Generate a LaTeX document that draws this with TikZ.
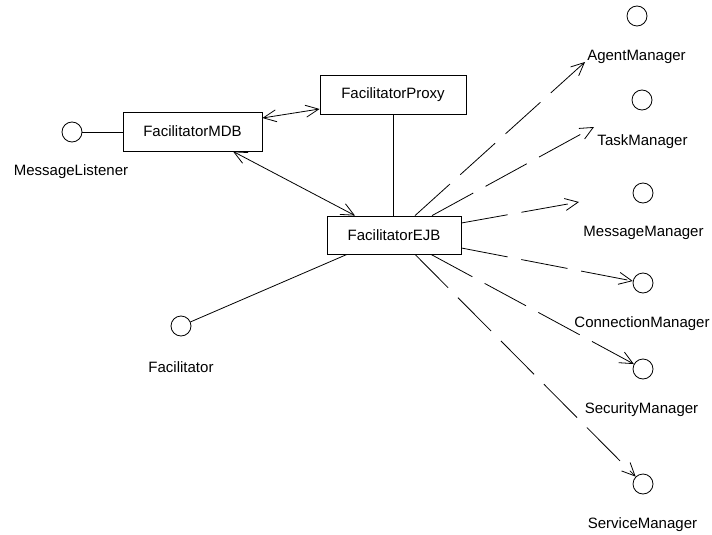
\documentclass[tikz,border=0pt]{standalone}
\usepackage{fontspec}
\setmainfont{Liberation Sans}
\usetikzlibrary{arrows.meta}
\begin{document}
\begin{tikzpicture}[x=1pt,y=-1pt,
  font=\fontsize{15}{18}\selectfont,
  every path/.style={line width=0.8pt},
  classbox/.style={draw,rectangle,inner sep=0pt,minimum height=39pt},
  iface/.style={draw,circle,inner sep=0pt,minimum size=20pt},
  ifacelabel/.style={inner sep=0pt,anchor=center},
  vtip/.tip={Straight Barb[length=13pt,width=12pt,line width=0.8pt]},
  assoc/.style={vtip-vtip},
  depend/.style={-vtip,dash pattern=on 47pt off 14pt}]
\useasboundingbox (0,0) rectangle (712,535);

% classes
\node[classbox,minimum width=139pt] (mdb)   at (192.5,131.5) {FacilitatorMDB};
\node[classbox,minimum width=146pt] (proxy) at (393,94.5)    {FacilitatorProxy};
\node[classbox,minimum width=134pt,minimum height=38pt] (ejb) at (394,235) {FacilitatorEJB};

% interfaces (lollipops) and their names
\node[iface] (ml)  at (72,132)  {};
\node[iface] (fac) at (181,326) {};
\node[iface] (am)  at (637,16)  {};
\node[iface] (tm)  at (642,100) {};
\node[iface] (mm)  at (643,193) {};
\node[iface] (cm)  at (643,283) {};
\node[iface] (sm)  at (643,369) {};
\node[iface] (svm) at (643,484) {};

\node[ifacelabel] (mllabel)  at (71,172)  {MessageListener};
\node[ifacelabel] (faclabel) at (181,367) {Facilitator};
\node[ifacelabel] (amlabel)  at (636.5,57) {AgentManager};
\node[ifacelabel] (tmlabel)  at (642.5,142) {TaskManager};
\node[ifacelabel] (mmlabel)  at (643.5,233) {MessageManager};
\node[ifacelabel] (cmlabel)  at (642,324) {ConnectionManager};
\node[ifacelabel] (smlabel)  at (641.5,410) {SecurityManager};
\node[ifacelabel] (svmlabel) at (642.5,525) {ServiceManager};

% free ends of the dependencies that stop short of their interface
\coordinate (amtip) at (585,62);
\coordinate (tmtip) at (594,127);
\coordinate (mmtip) at (579,202);

% realisations and associations
\draw (ml) -- (mdb.west |- ml);
\draw[assoc] ([yshift=13.5pt]mdb.east) -- ([yshift=-14.5pt]proxy.west);
\draw[assoc] ([xshift=40.5pt]mdb.south) -- ([xshift=-39pt]ejb.north);
\draw (proxy.south) -- (proxy.south |- ejb.north);
\draw ([xshift=-47pt]ejb.south) -- (fac);

% dependencies
\draw[depend] ([xshift=21pt]ejb.north) -- (amtip);
\draw[depend] ([xshift=38pt]ejb.north) -- (tmtip);
\draw[depend] ([yshift=12pt]ejb.east) -- (mmtip);
\draw[depend] ([yshift=-13pt]ejb.east) -- (cm);
\draw[depend] ([xshift=37pt]ejb.south) -- (sm);
\draw[depend] ([xshift=21pt]ejb.south) -- (svm);
\end{tikzpicture}
\end{document}
